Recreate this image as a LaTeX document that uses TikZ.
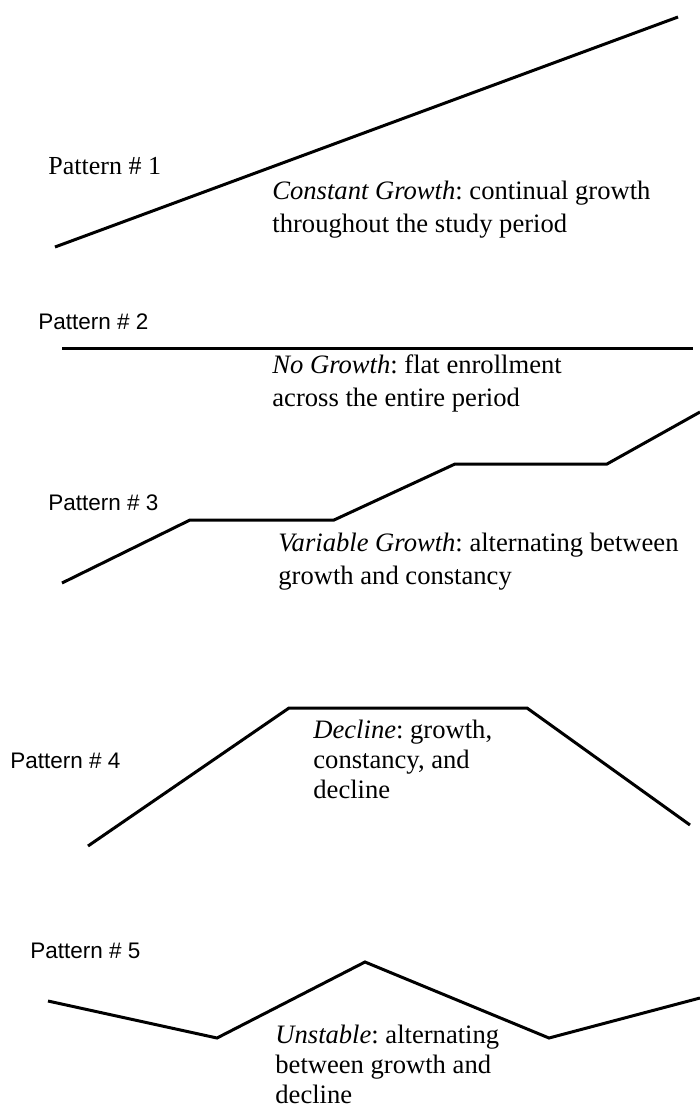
\documentclass[tikz,border=0pt]{standalone}
\usepackage{fontspec}
\setmainfont{Liberation Serif}
\newfontfamily\arialfont{Liberation Sans}
\usepackage{tikz}
\frenchspacing

\begin{document}
\begin{tikzpicture}[x=0.5pt, y=-0.5pt,
  trend/.style={line width=1.5pt, black},
  pname/.style={anchor=base west, inner sep=0pt, font=\arialfont\fontsize{11.25}{13.5}\selectfont},
  desc/.style={anchor=base west, inner sep=0pt, align=left, font=\fontsize{13.3}{16.25}\selectfont},
  tightdesc/.style={desc, font=\fontsize{13.3}{15}\selectfont}
]
    \useasboundingbox (0,0) rectangle (700,1109);

    % pattern 1
    \node[pname, font=\fontsize{13}{15.6}\selectfont] (p1) at (48,174) {Pattern \# 1};
    \draw[trend] (55,247) -- (678,17);
    \node[desc] (d1) at (272,232) {\textit{Constant Growth}: continual growth\\throughout the study period};

    % pattern 2
    \node[pname] (p2) at (38,329) {Pattern \# 2};
    \draw[trend] (62,348) -- (693,348);
    \node[desc] (d2) at (272,406) {\textit{No Growth}: flat enrollment\\across the entire period};

    % pattern 3
    \node[pname] (p3) at (48,510) {Pattern \# 3};
    \draw[trend] (62,583) -- (190,520) -- (334,520) -- (455,464) -- (607,464) -- (700,412);
    \node[desc] (d3) at (278,584) {\textit{Variable Growth}: alternating between\\growth and constancy};

    % pattern 4
    \node[pname] (p4) at (10,768) {Pattern \# 4};
    \draw[trend] (88,846) -- (289,708) -- (527,708) -- (690,825);
    \node[tightdesc] (d4) at (313,798) {\textit{Decline}: growth,\\constancy, and\\decline};

    % pattern 5
    \node[pname] (p5) at (30,958) {Pattern \# 5};
    \draw[trend] (48,1001) -- (217,1038) -- (365,962) -- (549,1038) -- (700,998);
    \node[tightdesc] (d5) at (275,1103) {\textit{Unstable}: alternating\\between growth and\\decline};
\end{tikzpicture}
\end{document}
